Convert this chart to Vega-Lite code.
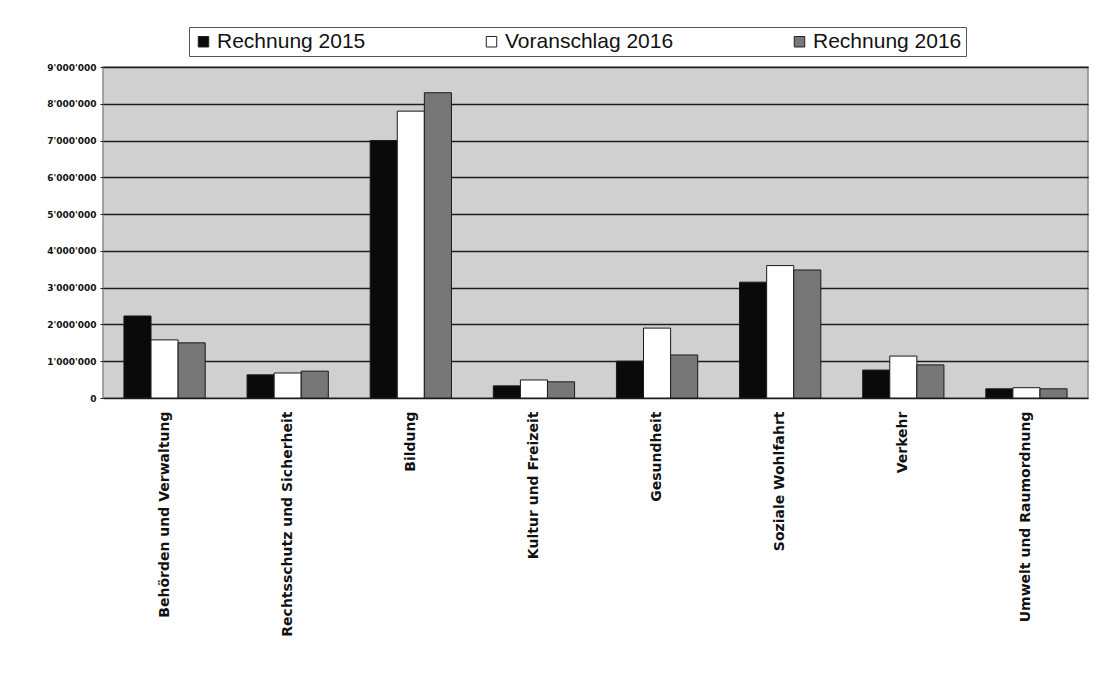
{
  "$schema": "https://vega.github.io/schema/vega-lite/v6.json",
  "width": 985,
  "height": 331,
  "autosize": {"type": "none"},
  "padding": {"left": 103, "top": 67, "right": 10, "bottom": 291},
  "background": "#ffffff",
  "config": {
    "font": "Liberation Sans",
    "view": {"fill": "#d0d0d0", "stroke": "#8a8a8a", "strokeWidth": 1.5}
  },
  "data": {
    "values": [
      {"category": "Behörden und Verwaltung", "series": "Rechnung 2015", "value": 2230000},
      {"category": "Behörden und Verwaltung", "series": "Voranschlag 2016", "value": 1580000},
      {"category": "Behörden und Verwaltung", "series": "Rechnung 2016", "value": 1500000},
      {"category": "Rechtsschutz und Sicherheit", "series": "Rechnung 2015", "value": 630000},
      {"category": "Rechtsschutz und Sicherheit", "series": "Voranschlag 2016", "value": 680000},
      {"category": "Rechtsschutz und Sicherheit", "series": "Rechnung 2016", "value": 730000},
      {"category": "Bildung", "series": "Rechnung 2015", "value": 7000000},
      {"category": "Bildung", "series": "Voranschlag 2016", "value": 7800000},
      {"category": "Bildung", "series": "Rechnung 2016", "value": 8300000},
      {"category": "Kultur und Freizeit", "series": "Rechnung 2015", "value": 330000},
      {"category": "Kultur und Freizeit", "series": "Voranschlag 2016", "value": 490000},
      {"category": "Kultur und Freizeit", "series": "Rechnung 2016", "value": 440000},
      {"category": "Gesundheit", "series": "Rechnung 2015", "value": 1000000},
      {"category": "Gesundheit", "series": "Voranschlag 2016", "value": 1900000},
      {"category": "Gesundheit", "series": "Rechnung 2016", "value": 1170000},
      {"category": "Soziale Wohlfahrt", "series": "Rechnung 2015", "value": 3150000},
      {"category": "Soziale Wohlfahrt", "series": "Voranschlag 2016", "value": 3600000},
      {"category": "Soziale Wohlfahrt", "series": "Rechnung 2016", "value": 3480000},
      {"category": "Verkehr", "series": "Rechnung 2015", "value": 760000},
      {"category": "Verkehr", "series": "Voranschlag 2016", "value": 1140000},
      {"category": "Verkehr", "series": "Rechnung 2016", "value": 900000},
      {"category": "Umwelt und Raumordnung", "series": "Rechnung 2015", "value": 250000},
      {"category": "Umwelt und Raumordnung", "series": "Voranschlag 2016", "value": 280000},
      {"category": "Umwelt und Raumordnung", "series": "Rechnung 2016", "value": 250000}
    ]
  },
  "mark": {"type": "bar", "stroke": "#1a1a1a", "strokeWidth": 1},
  "encoding": {
    "x": {
      "field": "category",
      "type": "nominal",
      "sort": null,
      "scale": {"paddingInner": 0.34, "paddingOuter": 0.17},
      "axis": {
        "title": null,
        "labelAngle": -90,
        "labelAlign": "right",
        "labelBaseline": "middle",
        "labelFont": "DejaVu Sans",
        "labelFontSize": 14,
        "labelFontWeight": "bold",
        "labelColor": "#111111",
        "labelPadding": 13,
        "ticks": false,
        "domain": false,
        "labelLimit": 300
      }
    },
    "xOffset": {
      "field": "series",
      "type": "nominal",
      "sort": ["Rechnung 2015", "Voranschlag 2016", "Rechnung 2016"],
      "scale": {"paddingInner": 0, "paddingOuter": 0}
    },
    "y": {
      "field": "value",
      "type": "quantitative",
      "scale": {"domain": [0, 9000000], "nice": false},
      "axis": {
        "title": null,
        "values": [0, 1000000, 2000000, 3000000, 4000000, 5000000, 6000000, 7000000, 8000000, 9000000],
        "labelExpr": "replace(format(datum.value, ','), regexp(',', 'g'), \"'\")",
        "labelFont": "DejaVu Sans",
        "labelFontSize": 9,
        "labelFontWeight": "bold",
        "labelColor": "#111111",
        "labelPadding": 4,
        "tickSize": 3,
        "tickColor": "#222222",
        "domain": false,
        "grid": true,
        "gridColor": "#1e1e1e",
        "gridWidth": 1.5
      }
    },
    "fill": {
      "field": "series",
      "type": "nominal",
      "sort": ["Rechnung 2015", "Voranschlag 2016", "Rechnung 2016"],
      "scale": {
        "domain": ["Rechnung 2015", "Voranschlag 2016", "Rechnung 2016"],
        "range": ["#0a0a0a", "#ffffff", "#777777"]
      },
      "legend": {
        "title": null,
        "orient": "none",
        "direction": "horizontal",
        "legendX": 86,
        "legendY": -40,
        "symbolType": "square",
        "symbolSize": 110,
        "symbolStrokeColor": "#222222",
        "symbolStrokeWidth": 1,
        "labelFontSize": 21,
        "labelColor": "#111111",
        "labelOffset": 3,
        "labelLimit": 400,
        "columnPadding": 115,
        "strokeColor": "#555555",
        "fillColor": "#ffffff",
        "padding": 4
      }
    }
  }
}
